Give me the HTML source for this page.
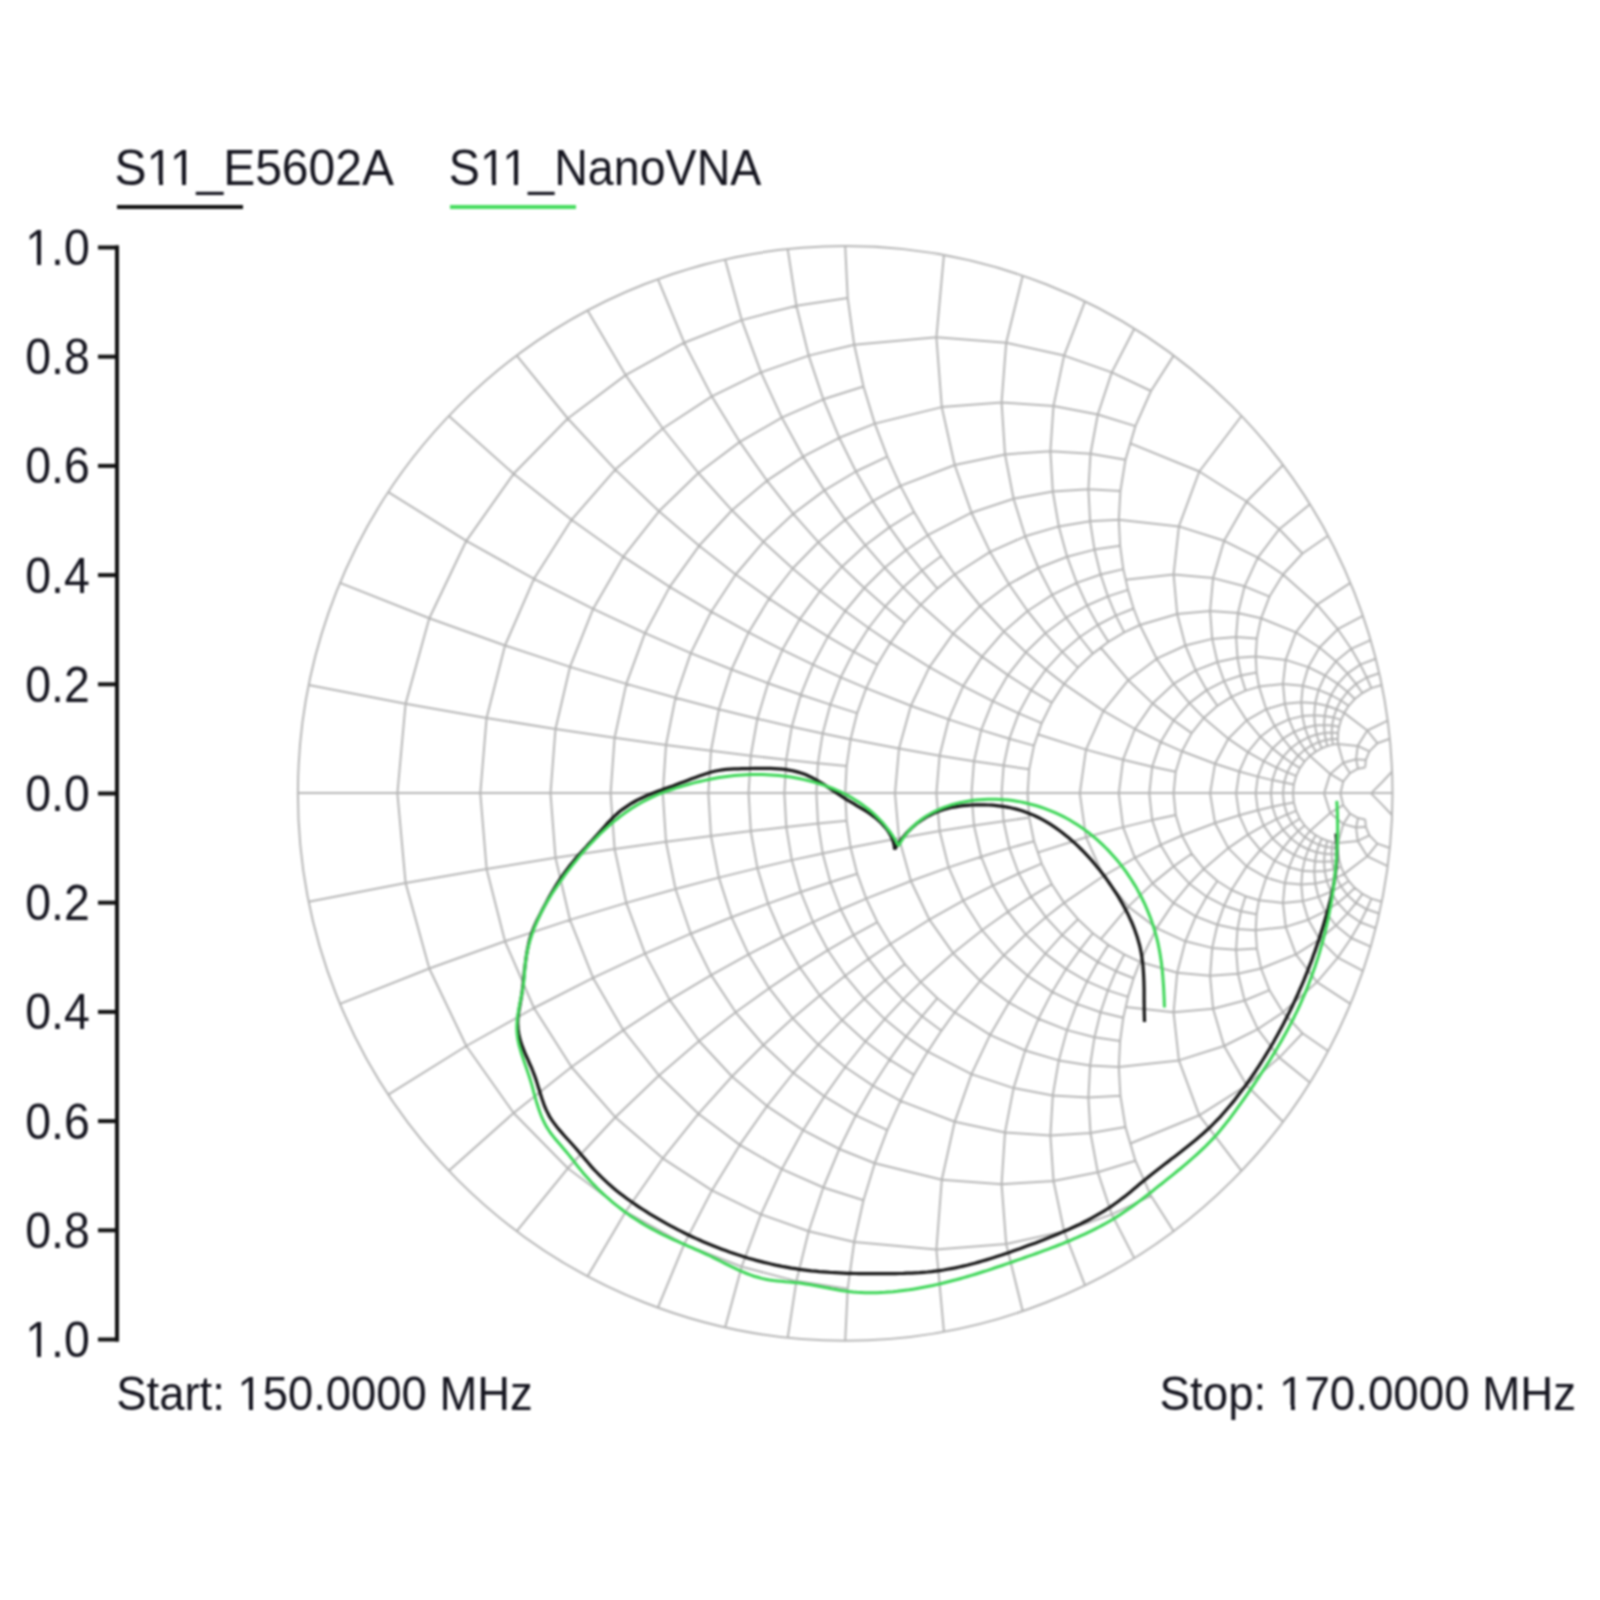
<!DOCTYPE html>
<html><head><meta charset="utf-8">
<style>
html,body{margin:0;padding:0;background:#fff;}
body{width:1600px;height:1600px;overflow:hidden;position:relative;}
svg{position:absolute;left:0;top:0;filter:blur(0.8px);}
text{font-family:"Liberation Sans",sans-serif;fill:#15151f;}
</style></head><body>
<svg width="1600" height="1600" viewBox="0 0 1600 1600">
<rect width="1600" height="1600" fill="#fff"/>
<g fill="none" stroke="#b6b6b6" stroke-width="2" stroke-linejoin="round">
<path d="M397.4,793.4 L405.6,703.7 L429.3,618.3 L466.3,540.8 L513.6,473.8 L567.8,418.5 L625.6,375.1 L684.2,342.7 L741.7,320.1 L796.4,305.7 L847.7,298.1 M397.4,793.4 L405.6,883.1 L429.3,968.5 L466.3,1046.0 L513.6,1113.0 L567.8,1168.3 L625.6,1211.7 L684.2,1244.1 L741.7,1266.7 L796.4,1281.1 L847.7,1288.7 M480.3,793.4 L486.6,717.9 L505.0,645.5 L534.0,578.8 L571.5,519.8 L615.3,469.6 L662.8,428.5 L711.9,396.4 L761.0,372.4 L808.7,355.6 L854.2,344.8 L936.4,337.3 L1006.2,342.7 L1064.1,355.6 L1111.8,372.4 L1151.0,391.0 M480.3,793.4 L486.6,868.9 L505.0,941.3 L534.0,1008.0 L571.5,1067.0 L615.3,1117.2 L662.8,1158.3 L711.9,1190.4 L761.0,1214.4 L808.7,1231.2 L854.2,1242.0 L936.4,1249.5 L1006.2,1244.1 L1064.1,1231.2 L1111.8,1214.4 L1151.0,1195.8 M550.5,793.4 L555.5,729.0 L570.0,666.9 L593.1,608.9 L623.3,556.7 L659.0,511.3 L698.4,473.0 L739.8,441.9 L781.8,417.6 L823.3,399.3 L863.5,386.5 M550.5,793.4 L555.5,857.8 L570.0,919.9 L593.1,977.9 L623.3,1030.1 L659.0,1075.5 L698.4,1113.8 L739.8,1144.9 L781.8,1169.2 L823.3,1187.5 L863.5,1200.3 M610.6,793.4 L614.6,737.8 L626.3,683.9 L645.0,633.2 L669.7,586.9 L699.1,545.8 L732.0,510.3 L767.0,480.7 L803.1,456.6 L839.3,437.8 L874.8,423.6 L941.8,407.1 L1001.6,402.5 L1053.5,405.9 L1097.8,414.5 L1135.4,426.1 M610.6,793.4 L614.6,849.0 L626.3,902.9 L645.0,953.6 L669.7,999.9 L699.1,1041.0 L732.0,1076.5 L767.0,1106.1 L803.1,1130.2 L839.3,1149.0 L874.8,1163.2 L941.8,1179.7 L1001.6,1184.3 L1053.5,1180.9 L1097.8,1172.3 L1135.4,1160.7 M662.8,793.4 L666.0,745.0 L675.5,697.8 L690.8,653.1 L711.2,611.7 L735.7,574.5 L763.4,541.8 L793.3,513.8 L824.4,490.4 L855.9,471.5 L887.3,456.6 M662.8,793.4 L666.0,841.8 L675.5,889.0 L690.8,933.7 L711.2,975.1 L735.7,1012.3 L763.4,1045.0 L793.3,1073.0 L824.4,1096.4 L855.9,1115.3 L887.3,1130.2 M1129.8,443.1 L1199.3,471.5 L1246.6,501.5 L1279.3,529.2 L1302.5,553.5 M1129.8,1143.7 L1199.3,1115.3 L1246.6,1085.3 L1279.3,1057.6 L1302.5,1033.3 M708.4,793.4 L711.0,750.8 L718.9,709.2 L731.6,669.5 L748.6,632.4 L769.2,598.6 L792.7,568.5 L818.3,542.2 L845.2,519.8 L872.8,501.1 L900.5,485.9 L954.7,465.0 L1005.0,454.4 L1050.4,451.3 L1090.5,453.7 L1125.5,459.7 M708.4,793.4 L711.0,836.0 L718.9,877.6 L731.6,917.3 L748.6,954.4 L769.2,988.2 L792.7,1018.3 L818.3,1044.6 L845.2,1067.0 L872.8,1085.7 L900.5,1100.9 L954.7,1121.8 L1005.0,1132.4 L1050.4,1135.5 L1090.5,1133.1 L1125.5,1127.1 M748.6,793.4 L750.8,755.7 L757.4,718.7 L768.1,683.2 L782.4,649.8 L799.9,619.1 L819.9,591.3 L842.0,566.7 L865.4,545.3 L889.6,527.1 L914.1,512.0 M748.6,793.4 L750.8,831.1 L757.4,868.1 L768.1,903.6 L782.4,937.0 L799.9,967.7 L819.9,995.5 L842.0,1020.1 L865.4,1041.5 L889.6,1059.7 L914.1,1074.8 M784.4,793.4 L786.3,759.7 L791.8,726.7 L800.8,694.8 L813.0,664.6 L827.9,636.6 L845.2,611.0 L864.3,588.0 L884.7,567.7 L906.0,550.2 L927.8,535.2 L971.5,512.7 L1013.6,498.7 L1052.8,491.4 L1088.4,489.3 L1120.4,491.0 M784.4,793.4 L786.3,827.1 L791.8,860.1 L800.8,892.0 L813.0,922.2 L827.9,950.2 L845.2,975.8 L864.3,998.8 L884.7,1019.1 L906.0,1036.6 L927.8,1051.6 L971.5,1074.1 L1013.6,1088.1 L1052.8,1095.4 L1088.4,1097.5 L1120.4,1095.8 M816.4,793.4 L818.0,763.2 L822.7,733.4 L830.4,704.6 L840.8,677.3 L853.7,651.6 L868.6,628.0 L885.2,606.5 L903.1,587.4 L922.0,570.5 L941.4,556.0 M816.4,793.4 L818.0,823.6 L822.7,853.4 L830.4,882.2 L840.8,909.5 L853.7,935.2 L868.6,958.8 L885.2,980.3 L903.1,999.4 L922.0,1016.3 L941.4,1030.8 M845.2,793.4 L846.6,766.1 L850.6,739.2 L857.2,713.1 L866.2,688.1 L877.4,664.6 L890.4,642.8 L904.9,622.7 L920.7,604.7 L937.4,588.6 L954.7,574.5 L990.1,551.9 L1025.2,536.3 L1058.8,526.4 L1090.1,521.3 L1118.8,519.8 L1178.9,526.4 L1224.1,540.8 L1257.8,557.6 L1283.0,574.5 L1317.0,604.7 L1337.8,629.2 L1351.2,648.8 L1360.3,664.6 L1366.7,677.5 L1371.4,688.1 M845.2,793.4 L846.6,820.7 L850.6,847.6 L857.2,873.7 L866.2,898.6 L877.4,922.2 L890.4,944.0 L904.9,964.1 L920.7,982.1 L937.4,998.2 L954.7,1012.3 L990.1,1034.9 L1025.2,1050.5 L1058.8,1060.4 L1090.1,1065.5 L1118.8,1067.0 L1178.9,1060.4 L1224.1,1046.0 L1257.8,1029.2 L1283.0,1012.3 L1317.0,982.1 L1337.8,957.6 L1351.2,938.0 L1360.3,922.2 L1366.7,909.3 L1371.4,898.6 M895.0,793.4 L899.0,748.5 L910.9,705.8 L929.4,667.1 L953.1,633.6 L980.2,606.0 L1009.0,584.2 L1038.4,568.0 L1067.1,556.7 L1094.5,549.6 L1120.1,545.8 M895.0,793.4 L899.0,838.3 L910.9,881.0 L929.4,919.7 L953.1,953.2 L980.2,980.8 L1009.0,1002.6 L1038.4,1018.8 L1067.1,1030.1 L1094.5,1037.2 L1120.1,1041.0 M936.4,793.4 L939.6,755.7 L948.7,719.4 L963.2,686.1 L982.0,656.6 L1003.9,631.5 L1027.6,611.0 L1052.2,594.9 L1076.8,582.9 L1100.6,574.5 L1123.3,569.1 M936.4,793.4 L939.6,831.1 L948.7,867.4 L963.2,900.7 L982.0,930.2 L1003.9,955.3 L1027.6,975.8 L1052.2,991.9 L1076.8,1003.9 L1100.6,1012.3 L1123.3,1017.7 M1125.5,579.8 L1173.6,574.5 L1213.1,578.1 L1244.6,586.3 L1269.5,596.6 M1125.5,1007.0 L1173.6,1012.3 L1213.1,1008.7 L1244.6,1000.5 L1269.5,990.2 M971.5,793.4 L974.0,761.2 L981.2,730.1 L992.8,701.2 L1007.9,675.1 L1025.8,652.3 L1045.4,633.2 L1066.1,617.7 L1087.1,605.5 L1107.9,596.4 L1128.0,589.9 M971.5,793.4 L974.0,825.6 L981.2,856.7 L992.8,885.6 L1007.9,911.7 L1025.8,934.5 L1045.4,953.6 L1066.1,969.1 L1087.1,981.3 L1107.9,990.4 L1128.0,996.9 M1001.6,793.4 L1003.6,765.6 L1009.4,738.7 L1018.7,713.3 L1031.1,690.1 L1045.8,669.6 L1062.2,651.9 L1079.8,637.0 L1097.8,625.0 L1115.9,615.6 L1133.6,608.5 M1001.6,793.4 L1003.6,821.2 L1009.4,848.1 L1018.7,873.5 L1031.1,896.7 L1045.8,917.2 L1062.2,934.9 L1079.8,949.8 L1097.8,961.8 L1115.9,971.2 L1133.6,978.3 M1027.6,793.4 L1029.2,769.2 L1034.0,745.6 L1041.7,723.2 L1051.9,702.6 L1064.1,683.9 L1078.0,667.6 L1092.9,653.6 L1108.4,641.9 L1124.2,632.4 L1139.9,625.0 L1177.2,614.0 L1210.1,611.0 L1238.0,613.1 L1261.1,618.3 L1295.9,632.4 L1319.5,647.5 L1335.9,661.3 L1347.5,673.4 L1356.0,683.9 L1362.4,693.0 M1027.6,793.4 L1029.2,817.6 L1034.0,841.2 L1041.7,863.6 L1051.9,884.2 L1064.1,902.9 L1078.0,919.2 L1092.9,933.2 L1108.4,944.9 L1124.2,954.4 L1139.9,961.8 L1177.2,972.8 L1210.1,975.8 L1238.0,973.7 L1261.1,968.5 L1295.9,954.4 L1319.5,939.3 L1335.9,925.5 L1347.5,913.4 L1356.0,902.9 L1362.4,893.8 M1079.8,793.4 L1086.0,749.6 L1103.4,710.8 L1128.3,680.2 L1156.7,658.7 L1185.4,645.5 L1212.2,638.9 L1236.1,637.0 L1256.9,638.4 M1079.8,793.4 L1086.0,837.2 L1103.4,876.0 L1128.3,906.6 L1156.7,928.1 L1185.4,941.3 L1212.2,947.9 L1236.1,949.8 L1256.9,948.4 M1118.8,793.4 L1123.1,759.7 L1134.9,729.0 L1152.6,703.4 L1173.6,683.9 L1195.7,670.4 L1217.4,662.0 L1237.5,657.8 L1255.7,656.6 L1285.7,659.9 L1308.3,667.1 L1325.1,675.5 L1337.8,683.9 L1347.4,691.8 L1354.8,699.0 M1118.8,793.4 L1123.1,827.1 L1134.9,857.8 L1152.6,883.4 L1173.6,902.9 L1195.7,916.4 L1217.4,924.8 L1237.5,929.0 L1255.7,930.2 L1285.7,926.9 L1308.3,919.7 L1325.1,911.3 L1337.8,902.9 L1347.4,895.0 L1354.8,887.8 M1149.3,793.4 L1152.2,766.7 L1160.7,741.9 L1173.6,720.4 L1189.4,703.1 L1206.6,690.1 L1224.1,681.1 L1240.9,675.5 L1256.6,672.6 M1149.3,793.4 L1152.2,820.1 L1160.7,844.9 L1173.6,866.4 L1189.4,883.7 L1206.6,896.7 L1224.1,905.7 L1240.9,911.3 L1256.6,914.2 M1173.6,793.4 L1175.7,771.7 L1182.0,751.3 L1191.7,733.1 L1203.8,717.9 L1217.4,705.8 L1231.5,696.8 L1245.6,690.6 L1259.0,686.6 L1283.0,683.9 L1302.8,685.7 L1318.5,689.9 L1331.0,695.0 L1340.9,700.5 L1348.7,705.8 M1173.6,793.4 L1175.7,815.1 L1182.0,835.5 L1191.7,853.7 L1203.8,868.9 L1217.4,881.0 L1231.5,890.0 L1245.6,896.2 L1259.0,900.2 L1283.0,902.9 L1302.8,901.1 L1318.5,896.9 L1331.0,891.8 L1340.9,886.3 L1348.7,881.0 M1210.1,793.4 L1215.0,763.8 L1228.3,738.7 L1246.6,720.4 L1266.2,709.2 L1284.8,703.7 L1301.3,702.2 L1315.2,703.3 L1326.8,705.8 L1336.4,709.2 L1344.2,712.9 L1367.3,730.5 L1377.4,743.2 M1210.1,793.4 L1215.0,823.0 L1228.3,848.1 L1246.6,866.4 L1266.2,877.6 L1284.8,883.1 L1301.3,884.6 L1315.2,883.5 L1326.8,881.0 L1336.4,877.6 L1344.2,873.9 L1367.3,856.3 L1377.4,843.6 M1236.1,793.4 L1239.3,771.5 L1247.9,752.1 L1260.4,736.8 L1274.6,726.0 L1289.0,719.4 L1302.4,716.1 L1314.3,715.2 L1324.7,715.9 L1333.6,717.6 L1341.1,719.9 M1236.1,793.4 L1239.3,815.3 L1247.9,834.7 L1260.4,850.0 L1274.6,860.8 L1289.0,867.4 L1302.4,870.7 L1314.3,871.6 L1324.7,870.9 L1333.6,869.2 L1341.1,866.9 M1255.7,793.4 L1257.8,776.6 L1263.7,761.2 L1272.5,748.4 L1283.0,738.7 L1294.1,731.9 L1304.9,727.7 L1315.0,725.6 L1324.1,725.0 L1332.1,725.5 L1339.1,726.7 M1255.7,793.4 L1257.8,810.2 L1263.7,825.6 L1272.5,838.4 L1283.0,848.1 L1294.1,854.9 L1304.9,859.1 L1315.0,861.2 L1324.1,861.8 L1332.1,861.3 L1339.1,860.1 M1270.9,793.4 L1272.4,780.1 L1276.6,767.6 L1283.0,756.9 L1290.9,748.3 L1299.6,741.8 L1308.3,737.3 L1316.7,734.5 L1324.6,733.0 L1331.7,732.6 L1338.1,732.9 M1270.9,793.4 L1272.4,806.7 L1276.6,819.2 L1283.0,829.9 L1290.9,838.5 L1299.6,845.0 L1308.3,849.5 L1316.7,852.3 L1324.6,853.8 L1331.7,854.2 L1338.1,853.9 M1283.0,793.4 L1284.1,782.6 L1287.2,772.4 L1292.1,763.3 L1298.1,755.7 L1304.9,749.6 L1312.0,745.1 L1319.0,742.0 L1325.8,740.0 L1332.0,739.0 L1337.8,738.7 M1283.0,793.4 L1284.1,804.2 L1287.2,814.4 L1292.1,823.5 L1298.1,831.1 L1304.9,837.2 L1312.0,841.7 L1319.0,844.8 L1325.8,846.8 L1332.0,847.8 L1337.8,848.1 M1293.0,793.4 L1293.8,784.4 L1296.2,775.9 L1299.9,768.1 L1304.6,761.4 L1310.0,755.9 L1315.8,751.6 L1321.7,748.3 L1327.4,746.1 L1332.9,744.6 L1338.0,743.9 L1357.7,745.9 L1369.4,751.4 M1293.0,793.4 L1293.8,802.4 L1296.2,810.9 L1299.9,818.7 L1304.6,825.4 L1310.0,830.9 L1315.8,835.2 L1321.7,838.5 L1327.4,840.7 L1332.9,842.2 L1338.0,842.9 L1357.7,840.9 L1369.4,835.4 M1324.1,793.4 L1330.2,773.9 L1343.3,762.7 L1356.1,759.3 L1365.8,760.0 M1324.1,793.4 L1330.2,812.9 L1343.3,824.1 L1356.1,827.5 L1365.8,826.8 M1340.4,793.4 L1343.2,781.7 L1350.0,773.2 L1358.0,768.7 L1365.2,767.4 M1340.4,793.4 L1343.2,805.1 L1350.0,813.6 L1358.0,818.1 L1365.2,819.4 M1371.0,793.4 L1381.6,782.7 M1371.0,793.4 L1381.6,804.1 M308.7,685.0 L405.6,703.7 L486.6,717.9 L555.5,729.0 L614.6,737.8 L666.0,745.0 L711.0,750.8 L750.8,755.7 L786.3,759.7 L818.0,763.2 L846.6,766.1 M308.7,901.8 L405.6,883.1 L486.6,868.9 L555.5,857.8 L614.6,849.0 L666.0,841.8 L711.0,836.0 L750.8,831.1 L786.3,827.1 L818.0,823.6 L846.6,820.7 M340.0,582.9 L429.3,618.3 L505.0,645.5 L570.0,666.9 L626.3,683.9 L675.5,697.8 L718.9,709.2 L757.4,718.7 L791.8,726.7 L822.7,733.4 L850.6,739.2 L899.0,748.5 L939.6,755.7 L974.0,761.2 L1003.6,765.6 L1029.2,769.2 M340.0,1003.9 L429.3,968.5 L505.0,941.3 L570.0,919.9 L626.3,902.9 L675.5,889.0 L718.9,877.6 L757.4,868.1 L791.8,860.1 L822.7,853.4 L850.6,847.6 L899.0,838.3 L939.6,831.1 L974.0,825.6 L1003.6,821.2 L1029.2,817.6 M388.3,492.1 L466.3,540.8 L534.0,578.8 L593.1,608.9 L645.0,633.2 L690.8,653.1 L731.6,669.5 L768.1,683.2 L800.8,694.8 L830.4,704.6 L857.2,713.1 M388.3,1094.7 L466.3,1046.0 L534.0,1008.0 L593.1,977.9 L645.0,953.6 L690.8,933.7 L731.6,917.3 L768.1,903.6 L800.8,892.0 L830.4,882.2 L857.2,873.7 M448.9,416.0 L513.6,473.8 L571.5,519.8 L623.3,556.7 L669.7,586.9 L711.2,611.7 L748.6,632.4 L782.4,649.8 L813.0,664.6 L840.8,677.3 L866.2,688.1 L910.9,705.8 L948.7,719.4 L981.2,730.1 L1009.4,738.7 L1034.0,745.6 M448.9,1170.8 L513.6,1113.0 L571.5,1067.0 L623.3,1030.1 L669.7,999.9 L711.2,975.1 L748.6,954.4 L782.4,937.0 L813.0,922.2 L840.8,909.5 L866.2,898.6 L910.9,881.0 L948.7,867.4 L981.2,856.7 L1009.4,848.1 L1034.0,841.2 M516.8,355.6 L567.8,418.5 L615.3,469.6 L659.0,511.3 L699.1,545.8 L735.7,574.5 L769.2,598.6 L799.9,619.1 L827.9,636.6 L853.7,651.6 L877.4,664.6 M516.8,1231.2 L567.8,1168.3 L615.3,1117.2 L659.0,1075.5 L699.1,1041.0 L735.7,1012.3 L769.2,988.2 L799.9,967.7 L827.9,950.2 L853.7,935.2 L877.4,922.2 M1037.5,734.2 L1086.0,749.6 L1123.1,759.7 L1152.2,766.7 L1175.7,771.7 M1037.5,852.6 L1086.0,837.2 L1123.1,827.1 L1152.2,820.1 L1175.7,815.1 M587.6,310.5 L625.6,375.1 L662.8,428.5 L698.4,473.0 L732.0,510.3 L763.4,541.8 L792.7,568.5 L819.9,591.3 L845.2,611.0 L868.6,628.0 L890.4,642.8 L929.4,667.1 L963.2,686.1 L992.8,701.2 L1018.7,713.3 L1041.7,723.2 M587.6,1276.3 L625.6,1211.7 L662.8,1158.3 L698.4,1113.8 L732.0,1076.5 L763.4,1045.0 L792.7,1018.3 L819.9,995.5 L845.2,975.8 L868.6,958.8 L890.4,944.0 L929.4,919.7 L963.2,900.7 L992.8,885.6 L1018.7,873.5 L1041.7,863.6 M657.9,279.2 L684.2,342.7 L711.9,396.4 L739.8,441.9 L767.0,480.7 L793.3,513.8 L818.3,542.2 L842.0,566.7 L864.3,588.0 L885.2,606.5 L904.9,622.7 M657.9,1307.6 L684.2,1244.1 L711.9,1190.4 L739.8,1144.9 L767.0,1106.1 L793.3,1073.0 L818.3,1044.6 L842.0,1020.1 L864.3,998.8 L885.2,980.3 L904.9,964.1 M725.1,259.4 L741.7,320.1 L761.0,372.4 L781.8,417.6 L803.1,456.6 L824.4,490.4 L845.2,519.8 L865.4,545.3 L884.7,567.7 L903.1,587.4 L920.7,604.7 L953.1,633.6 L982.0,656.6 L1007.9,675.1 L1031.1,690.1 L1051.9,702.6 M725.1,1327.4 L741.7,1266.7 L761.0,1214.4 L781.8,1169.2 L803.1,1130.2 L824.4,1096.4 L845.2,1067.0 L865.4,1041.5 L884.7,1019.1 L903.1,999.4 L920.7,982.1 L953.1,953.2 L982.0,930.2 L1007.9,911.7 L1031.1,896.7 L1051.9,884.2 M787.7,249.1 L796.4,305.7 L808.7,355.6 L823.3,399.3 L839.3,437.8 L855.9,471.5 L872.8,501.1 L889.6,527.1 L906.0,550.2 L922.0,570.5 L937.4,588.6 M787.7,1337.7 L796.4,1281.1 L808.7,1231.2 L823.3,1187.5 L839.3,1149.0 L855.9,1115.3 L872.8,1085.7 L889.6,1059.7 L906.0,1036.6 L922.0,1016.3 L937.4,998.2 M845.2,246.1 L847.7,298.1 L854.2,344.8 L863.5,386.5 L874.8,423.6 L887.3,456.6 L900.5,485.9 L914.1,512.0 L927.8,535.2 L941.4,556.0 L954.7,574.5 L980.2,606.0 L1003.9,631.5 L1025.8,652.3 L1045.8,669.6 L1064.1,683.9 L1103.4,710.8 L1134.9,729.0 L1160.7,741.9 L1182.0,751.3 L1215.0,763.8 L1239.3,771.5 L1257.8,776.6 L1272.4,780.1 L1284.1,782.6 L1293.8,784.4 M845.2,1340.7 L847.7,1288.7 L854.2,1242.0 L863.5,1200.3 L874.8,1163.2 L887.3,1130.2 L900.5,1100.9 L914.1,1074.8 L927.8,1051.6 L941.4,1030.8 L954.7,1012.3 L980.2,980.8 L1003.9,955.3 L1025.8,934.5 L1045.8,917.2 L1064.1,902.9 L1103.4,876.0 L1134.9,857.8 L1160.7,844.9 L1182.0,835.5 L1215.0,823.0 L1239.3,815.3 L1257.8,810.2 L1272.4,806.7 L1284.1,804.2 L1293.8,802.4 M943.9,255.1 L936.4,337.3 L941.8,407.1 L954.7,465.0 L971.5,512.7 L990.1,551.9 L1009.0,584.2 L1027.6,611.0 L1045.4,633.2 L1062.2,651.9 L1078.0,667.6 M943.9,1331.7 L936.4,1249.5 L941.8,1179.7 L954.7,1121.8 L971.5,1074.1 L990.1,1034.9 L1009.0,1002.6 L1027.6,975.8 L1045.4,953.6 L1062.2,934.9 L1078.0,919.2 M1022.7,275.7 L1006.2,342.7 L1001.6,402.5 L1005.0,454.4 L1013.6,498.7 L1025.2,536.3 L1038.4,568.0 L1052.2,594.9 L1066.1,617.7 L1079.8,637.0 L1092.9,653.6 M1022.7,1311.1 L1006.2,1244.1 L1001.6,1184.3 L1005.0,1132.4 L1013.6,1088.1 L1025.2,1050.5 L1038.4,1018.8 L1052.2,991.9 L1066.1,969.1 L1079.8,949.8 L1092.9,933.2 M1100.6,647.5 L1128.3,680.2 L1152.6,703.4 L1173.6,720.4 L1191.7,733.1 M1100.6,939.3 L1128.3,906.6 L1152.6,883.4 L1173.6,866.4 L1191.7,853.7 M1085.0,301.4 L1064.1,355.6 L1053.5,405.9 L1050.4,451.3 L1052.8,491.4 L1058.8,526.4 L1067.1,556.7 L1076.8,582.9 L1087.1,605.5 L1097.8,625.0 L1108.4,641.9 M1085.0,1285.4 L1064.1,1231.2 L1053.5,1180.9 L1050.4,1135.5 L1052.8,1095.4 L1058.8,1060.4 L1067.1,1030.1 L1076.8,1003.9 L1087.1,981.3 L1097.8,961.8 L1108.4,944.9 M1134.3,328.7 L1111.8,372.4 L1097.8,414.5 L1090.5,453.7 L1088.4,489.3 L1090.1,521.3 L1094.5,549.6 L1100.6,574.5 L1107.9,596.4 L1115.9,615.6 L1124.2,632.4 M1134.3,1258.1 L1111.8,1214.4 L1097.8,1172.3 L1090.5,1133.1 L1088.4,1097.5 L1090.1,1065.5 L1094.5,1037.2 L1100.6,1012.3 L1107.9,990.4 L1115.9,971.2 L1124.2,954.4 M1173.6,355.6 L1151.0,391.0 L1135.4,426.1 L1125.5,459.7 L1120.4,491.0 L1118.8,519.8 L1120.1,545.8 L1123.3,569.1 L1128.0,589.9 L1133.6,608.5 L1139.9,625.0 L1156.7,658.7 L1173.6,683.9 L1189.4,703.1 L1203.8,717.9 L1228.3,738.7 L1247.9,752.1 L1263.7,761.2 L1276.6,767.6 L1287.2,772.4 L1296.2,775.9 M1173.6,1231.2 L1151.0,1195.8 L1135.4,1160.7 L1125.5,1127.1 L1120.4,1095.8 L1118.8,1067.0 L1120.1,1041.0 L1123.3,1017.7 L1128.0,996.9 L1133.6,978.3 L1139.9,961.8 L1156.7,928.1 L1173.6,902.9 L1189.4,883.7 L1203.8,868.9 L1228.3,848.1 L1247.9,834.7 L1263.7,825.6 L1276.6,819.2 L1287.2,814.4 L1296.2,810.9 M1241.5,416.0 L1199.3,471.5 L1178.9,526.4 L1173.6,574.5 L1177.2,614.0 L1185.4,645.5 L1195.7,670.4 L1206.6,690.1 L1217.4,705.8 M1241.5,1170.8 L1199.3,1115.3 L1178.9,1060.4 L1173.6,1012.3 L1177.2,972.8 L1185.4,941.3 L1195.7,916.4 L1206.6,896.7 L1217.4,881.0 M1283.0,465.0 L1246.6,501.5 L1224.1,540.8 L1213.1,578.1 L1210.1,611.0 L1212.2,638.9 L1217.4,662.0 L1224.1,681.1 L1231.5,696.8 L1246.6,720.4 L1260.4,736.8 L1272.5,748.4 L1283.0,756.9 L1292.1,763.3 L1299.9,768.1 M1283.0,1121.8 L1246.6,1085.3 L1224.1,1046.0 L1213.1,1008.7 L1210.1,975.8 L1212.2,947.9 L1217.4,924.8 L1224.1,905.7 L1231.5,890.0 L1246.6,866.4 L1260.4,850.0 L1272.5,838.4 L1283.0,829.9 L1292.1,823.5 L1299.9,818.7 M1309.9,504.3 L1279.3,529.2 L1257.8,557.6 L1244.6,586.3 L1238.0,613.1 L1236.1,637.0 L1237.5,657.8 L1240.9,675.5 L1245.6,690.6 M1309.9,1082.5 L1279.3,1057.6 L1257.8,1029.2 L1244.6,1000.5 L1238.0,973.7 L1236.1,949.8 L1237.5,929.0 L1240.9,911.3 L1245.6,896.2 M1328.1,535.8 L1302.5,553.5 L1283.0,574.5 L1269.5,596.6 L1261.1,618.3 L1256.9,638.4 L1255.7,656.6 L1256.6,672.6 L1259.0,686.6 L1266.2,709.2 L1274.6,726.0 L1283.0,738.7 L1290.9,748.3 L1298.1,755.7 L1304.6,761.4 M1328.1,1051.0 L1302.5,1033.3 L1283.0,1012.3 L1269.5,990.2 L1261.1,968.5 L1256.9,948.4 L1255.7,930.2 L1256.6,914.2 L1259.0,900.2 L1266.2,877.6 L1274.6,860.8 L1283.0,848.1 L1290.9,838.5 L1298.1,831.1 L1304.6,825.4 M1350.4,582.9 L1317.0,604.7 L1295.9,632.4 L1285.7,659.9 L1283.0,683.9 L1284.8,703.7 L1289.0,719.4 L1294.1,731.9 L1299.6,741.8 L1304.9,749.6 L1310.0,755.9 L1330.2,773.9 L1343.2,781.7 M1350.4,1003.9 L1317.0,982.1 L1295.9,954.4 L1285.7,926.9 L1283.0,902.9 L1284.8,883.1 L1289.0,867.4 L1294.1,854.9 L1299.6,845.0 L1304.9,837.2 L1310.0,830.9 L1330.2,812.9 L1343.2,805.1 M1362.9,615.9 L1337.8,629.2 L1319.5,647.5 L1308.3,667.1 L1302.8,685.7 L1301.3,702.2 L1302.4,716.1 L1304.9,727.7 L1308.3,737.3 L1312.0,745.1 L1315.8,751.6 M1362.9,970.9 L1337.8,957.6 L1319.5,939.3 L1308.3,919.7 L1302.8,901.1 L1301.3,884.6 L1302.4,870.7 L1304.9,859.1 L1308.3,849.5 L1312.0,841.7 L1315.8,835.2 M1370.6,640.2 L1351.2,648.8 L1335.9,661.3 L1325.1,675.5 L1318.5,689.9 L1315.2,703.3 L1314.3,715.2 L1315.0,725.6 L1316.7,734.5 L1319.0,742.0 L1321.7,748.3 M1370.6,946.6 L1351.2,938.0 L1335.9,925.5 L1325.1,911.3 L1318.5,896.9 L1315.2,883.5 L1314.3,871.6 L1315.0,861.2 L1316.7,852.3 L1319.0,844.8 L1321.7,838.5 M1375.7,658.7 L1360.3,664.6 L1347.5,673.4 L1337.8,683.9 L1331.0,695.0 L1326.8,705.8 L1324.7,715.9 L1324.1,725.0 L1324.6,733.0 L1325.8,740.0 L1327.4,746.1 M1375.7,928.1 L1360.3,922.2 L1347.5,913.4 L1337.8,902.9 L1331.0,891.8 L1326.8,881.0 L1324.7,870.9 L1324.1,861.8 L1324.6,853.8 L1325.8,846.8 L1327.4,840.7 M1379.2,673.3 L1366.7,677.5 L1356.0,683.9 L1347.4,691.8 L1340.9,700.5 L1336.4,709.2 L1333.6,717.6 L1332.1,725.5 L1331.7,732.6 L1332.0,739.0 L1332.9,744.6 M1379.2,913.5 L1366.7,909.3 L1356.0,902.9 L1347.4,895.0 L1340.9,886.3 L1336.4,877.6 L1333.6,869.2 L1332.1,861.3 L1331.7,854.2 L1332.0,847.8 L1332.9,842.2 M1381.7,685.0 L1371.4,688.1 L1362.4,693.0 L1354.8,699.0 L1348.7,705.8 L1344.2,712.9 L1341.1,719.9 L1339.1,726.7 L1338.1,732.9 L1337.8,738.7 L1338.0,743.9 L1343.3,762.7 L1350.0,773.2 M1381.7,901.8 L1371.4,898.6 L1362.4,893.8 L1354.8,887.8 L1348.7,881.0 L1344.2,873.9 L1341.1,866.9 L1339.1,860.1 L1338.1,853.9 L1337.8,848.1 L1338.0,842.9 L1343.3,824.1 L1350.0,813.6 M1387.7,720.7 L1367.3,730.5 L1357.7,745.9 L1356.1,759.3 L1358.0,768.7 M1387.7,866.1 L1367.3,856.3 L1357.7,840.9 L1356.1,827.5 L1358.0,818.1 M1389.8,738.8 L1377.4,743.2 L1369.4,751.4 L1365.8,760.0 L1365.2,767.4 M1389.8,848.0 L1377.4,843.6 L1369.4,835.4 L1365.8,826.8 L1365.2,819.4 M1392.1,771.5 L1381.6,782.7 M1392.1,815.3 L1381.6,804.1"/>
</g>
<circle cx="845.2" cy="793.4" r="547.3" fill="none" stroke="#b6b6b6" stroke-width="2"/>
<line x1="297.9000000000001" y1="792.9" x2="1392.5" y2="792.9" stroke="#b6b6b6" stroke-width="2"/>
<path d="M1144.5,1022.0 L1144.4,1018.0 L1144.3,1014.0 L1144.2,1010.0 L1144.2,1006.0 L1144.1,1001.9 L1144.1,997.8 L1144.1,993.7 L1144.1,989.6 L1144.0,985.5 L1143.9,981.4 L1143.7,977.2 L1143.5,973.1 L1143.2,969.0 L1142.9,965.0 L1142.4,960.9 L1141.9,956.9 L1141.2,952.9 L1140.4,948.9 L1139.5,945.0 L1138.4,941.1 L1137.3,937.3 L1136.0,933.5 L1134.7,929.7 L1133.2,925.9 L1131.7,922.2 L1130.0,918.6 L1128.3,914.9 L1126.5,911.3 L1124.6,907.7 L1122.7,904.2 L1120.6,900.6 L1118.6,897.1 L1116.4,893.7 L1114.2,890.3 L1111.9,886.9 L1109.6,883.5 L1107.3,880.1 L1104.9,876.8 L1102.4,873.6 L1099.9,870.3 L1097.3,867.2 L1094.7,864.0 L1092.1,860.9 L1089.4,857.9 L1086.6,854.9 L1083.8,851.9 L1080.9,849.0 L1078.0,846.2 L1075.1,843.4 L1072.0,840.7 L1069.0,838.0 L1065.8,835.5 L1062.7,832.9 L1059.4,830.5 L1056.1,828.1 L1052.8,825.9 L1049.4,823.7 L1046.0,821.6 L1042.5,819.6 L1038.9,817.8 L1035.3,816.0 L1031.6,814.4 L1027.9,812.9 L1024.1,811.5 L1020.3,810.2 L1016.4,809.1 L1012.5,808.2 L1008.5,807.3 L1004.5,806.6 L1000.4,806.1 L996.4,805.6 L992.3,805.2 L988.2,805.0 L984.1,804.9 L979.9,804.8 L975.8,804.9 L971.7,805.0 L967.6,805.3 L963.6,805.6 L959.5,806.1 L955.5,806.8 L951.5,807.5 L947.6,808.4 L943.8,809.5 L940.0,810.8 L936.2,812.2 L932.6,813.9 L929.0,815.7 L925.5,817.6 L922.1,819.8 L918.8,822.1 L915.6,824.6 L912.5,827.2 L909.6,830.0 L906.7,832.9 L904.0,836.0 L901.4,839.2 L899.0,842.5 L896.7,845.9 L894.6,849.5 M894.6,849.5 L894.2,845.4 L893.2,841.5 L891.8,837.8 L890.0,834.2 L887.9,830.8 L885.4,827.6 L882.7,824.6 L879.9,821.7 L876.9,819.1 L873.8,816.6 L870.6,814.3 L867.3,812.0 L864.0,809.9 L860.6,807.8 L857.1,805.8 L853.7,803.7 L850.2,801.7 L846.7,799.6 L843.3,797.4 L839.9,795.2 L836.5,792.9 L833.2,790.6 L829.8,788.3 L826.4,786.1 L823.0,783.9 L819.6,781.8 L816.1,779.8 L812.6,777.9 L809.1,776.2 L805.5,774.6 L801.8,773.2 L798.0,772.1 L794.2,771.1 L790.3,770.3 L786.4,769.7 L782.4,769.2 L778.4,768.8 L774.4,768.6 L770.4,768.4 L766.3,768.3 L762.3,768.3 L758.2,768.3 L754.2,768.4 L750.1,768.5 L746.1,768.6 L742.1,768.7 L738.1,768.8 L734.1,768.9 L730.1,769.1 L726.2,769.4 L722.3,769.9 L718.4,770.5 L714.5,771.3 L710.7,772.3 L706.8,773.5 L703.0,774.7 L699.2,776.0 L695.4,777.4 L691.6,778.8 L687.9,780.3 L684.1,781.7 L680.3,783.1 L676.5,784.5 L672.8,785.9 L669.0,787.2 L665.2,788.5 L661.5,789.9 L657.7,791.3 L653.9,792.7 L650.2,794.3 L646.4,795.8 L642.8,797.5 L639.1,799.2 L635.6,801.0 L632.1,803.0 L628.7,805.1 L625.4,807.3 L622.1,809.6 L619.0,812.1 L616.0,814.7 L613.1,817.4 L610.3,820.3 L607.5,823.2 L604.8,826.2 L602.1,829.2 L599.4,832.2 L596.7,835.2 L594.0,838.3 L591.3,841.3 L588.6,844.2 L585.9,847.2 L583.2,850.1 L580.5,853.1 L577.8,856.1 L575.2,859.1 L572.7,862.2 L570.1,865.3 L567.7,868.4 L565.3,871.6 L563.0,874.9 L560.7,878.2 L558.5,881.5 L556.4,884.9 L554.3,888.4 L552.2,891.8 L550.2,895.3 L548.2,898.8 L546.3,902.4 L544.4,905.9 L542.5,909.5 L540.7,913.1 L538.9,916.7 L537.1,920.3 L535.4,923.9 L533.8,927.6 L532.4,931.3 L531.1,935.0 L529.9,938.8 L528.9,942.7 L528.1,946.5 L527.3,950.4 L526.6,954.4 L526.0,958.3 L525.5,962.3 L525.0,966.3 L524.5,970.3 L524.1,974.3 L523.7,978.3 L523.3,982.4 L522.8,986.4 L522.3,990.4 L521.8,994.4 L521.1,998.4 L520.4,1002.4 L519.7,1006.4 L519.0,1010.3 L518.4,1014.2 L517.9,1018.2 L517.7,1022.1 L517.8,1026.0 L518.2,1029.9 L518.8,1033.8 L519.6,1037.7 L520.7,1041.5 L522.0,1045.3 L523.4,1049.0 L524.9,1052.8 L526.5,1056.5 L528.2,1060.2 L529.8,1064.0 L531.5,1067.7 L533.0,1071.5 L534.5,1075.3 L535.9,1079.2 L537.1,1083.1 L538.3,1086.9 L539.5,1090.8 L540.7,1094.7 L541.9,1098.5 L543.2,1102.3 L544.5,1106.0 L546.1,1109.6 L547.8,1113.1 L549.6,1116.6 L551.7,1119.9 L554.0,1123.1 L556.4,1126.3 L558.9,1129.4 L561.5,1132.4 L564.2,1135.5 L566.9,1138.5 L569.7,1141.5 L572.4,1144.5 L575.1,1147.5 L577.8,1150.6 L580.4,1153.7 L583.0,1156.8 L585.7,1159.9 L588.3,1163.0 L590.9,1166.1 L593.6,1169.1 L596.4,1172.0 L599.2,1174.9 L602.0,1177.7 L604.9,1180.4 L607.8,1183.1 L610.8,1185.8 L613.9,1188.4 L616.9,1190.9 L620.1,1193.4 L623.2,1195.8 L626.4,1198.2 L629.6,1200.5 L632.9,1202.8 L636.2,1205.1 L639.5,1207.3 L642.9,1209.5 L646.3,1211.6 L649.7,1213.8 L653.1,1215.8 L656.6,1217.9 L660.0,1219.9 L663.5,1221.9 L667.0,1223.9 L670.6,1225.8 L674.1,1227.7 L677.7,1229.6 L681.3,1231.4 L684.9,1233.2 L688.5,1235.0 L692.1,1236.7 L695.8,1238.4 L699.5,1240.0 L703.2,1241.7 L706.9,1243.2 L710.6,1244.8 L714.3,1246.3 L718.1,1247.8 L721.8,1249.2 L725.6,1250.6 L729.4,1252.0 L733.2,1253.3 L737.0,1254.6 L740.8,1255.8 L744.7,1257.0 L748.5,1258.2 L752.4,1259.3 L756.2,1260.4 L760.1,1261.4 L764.0,1262.4 L767.9,1263.3 L771.8,1264.2 L775.7,1265.1 L779.6,1265.9 L783.5,1266.7 L787.5,1267.4 L791.4,1268.1 L795.4,1268.7 L799.3,1269.3 L803.3,1269.8 L807.2,1270.3 L811.2,1270.8 L815.2,1271.2 L819.2,1271.6 L823.1,1271.9 L827.1,1272.2 L831.1,1272.5 L835.1,1272.7 L839.1,1272.9 L843.1,1273.1 L847.1,1273.3 L851.1,1273.4 L855.1,1273.5 L859.1,1273.6 L863.2,1273.7 L867.2,1273.7 L871.2,1273.7 L875.2,1273.7 L879.3,1273.7 L883.3,1273.7 L887.3,1273.7 L891.4,1273.6 L895.4,1273.6 L899.4,1273.5 L903.5,1273.4 L907.5,1273.2 L911.5,1273.1 L915.5,1272.8 L919.5,1272.6 L923.6,1272.3 L927.6,1272.0 L931.5,1271.6 L935.5,1271.1 L939.5,1270.6 L943.5,1270.0 L947.4,1269.3 L951.3,1268.6 L955.3,1267.9 L959.2,1267.0 L963.1,1266.1 L967.0,1265.2 L970.8,1264.2 L974.7,1263.2 L978.6,1262.1 L982.4,1261.0 L986.3,1259.9 L990.1,1258.7 L993.9,1257.5 L997.7,1256.2 L1001.6,1255.0 L1005.4,1253.7 L1009.2,1252.4 L1013.0,1251.0 L1016.7,1249.7 L1020.5,1248.4 L1024.3,1247.0 L1028.1,1245.6 L1031.8,1244.3 L1035.6,1242.9 L1039.3,1241.4 L1043.1,1240.0 L1046.8,1238.5 L1050.5,1237.0 L1054.3,1235.5 L1058.0,1234.0 L1061.7,1232.4 L1065.4,1230.8 L1069.1,1229.2 L1072.7,1227.5 L1076.4,1225.8 L1080.0,1224.1 L1083.6,1222.3 L1087.2,1220.5 L1090.7,1218.6 L1094.2,1216.7 L1097.7,1214.7 L1101.2,1212.7 L1104.6,1210.6 L1107.9,1208.5 L1111.3,1206.3 L1114.6,1204.0 L1117.8,1201.7 L1121.0,1199.3 L1124.2,1196.9 L1127.3,1194.4 L1130.4,1191.9 L1133.5,1189.3 L1136.6,1186.7 L1139.7,1184.1 L1142.8,1181.5 L1145.9,1179.0 L1149.0,1176.4 L1152.1,1173.9 L1155.3,1171.4 L1158.5,1168.9 L1161.7,1166.5 L1164.9,1164.0 L1168.1,1161.6 L1171.3,1159.1 L1174.5,1156.7 L1177.7,1154.2 L1180.9,1151.8 L1184.0,1149.3 L1187.2,1146.8 L1190.3,1144.3 L1193.4,1141.8 L1196.5,1139.2 L1199.6,1136.6 L1202.6,1134.0 L1205.6,1131.3 L1208.5,1128.6 L1211.4,1125.9 L1214.2,1123.0 L1217.0,1120.2 L1219.8,1117.3 L1222.5,1114.3 L1225.1,1111.3 L1227.7,1108.3 L1230.3,1105.2 L1232.9,1102.1 L1235.4,1099.0 L1237.8,1095.8 L1240.3,1092.6 L1242.7,1089.4 L1245.1,1086.2 L1247.4,1082.9 L1249.7,1079.6 L1252.0,1076.3 L1254.3,1073.0 L1256.5,1069.6 L1258.7,1066.3 L1260.9,1062.9 L1263.0,1059.5 L1265.1,1056.1 L1267.2,1052.7 L1269.3,1049.2 L1271.3,1045.8 L1273.4,1042.3 L1275.3,1038.8 L1277.3,1035.3 L1279.2,1031.8 L1281.1,1028.2 L1283.0,1024.7 L1284.9,1021.1 L1286.7,1017.5 L1288.5,1013.9 L1290.3,1010.3 L1292.0,1006.7 L1293.7,1003.1 L1295.4,999.4 L1297.1,995.8 L1298.7,992.1 L1300.3,988.4 L1301.9,984.8 L1303.5,981.1 L1305.0,977.3 L1306.5,973.6 L1308.0,969.9 L1309.4,966.1 L1310.9,962.4 L1312.3,958.6 L1313.6,954.8 L1315.0,951.1 L1316.3,947.3 L1317.6,943.5 L1318.9,939.7 L1320.1,935.8 L1321.3,932.0 L1322.5,928.2 L1323.7,924.3 L1324.8,920.5 L1325.9,916.6 L1327.0,912.8 L1328.1,908.9 L1329.1,905.0 L1330.1,901.2 L1331.0,897.3 L1331.9,893.4 L1332.7,889.5 L1333.5,885.5 L1334.2,881.6 L1334.8,877.7 L1335.4,873.7 L1335.9,869.8 L1336.3,865.8 L1336.6,861.8 L1336.8,857.8 L1337.0,853.8 L1337.0,849.8 L1336.9,845.7 L1336.7,841.7 L1336.4,837.6 L1336.0,833.5" fill="none" stroke="#141414" stroke-width="3.2" stroke-linejoin="miter"/>
<path d="M1164.5,1007.5 L1164.3,1003.5 L1164.2,999.4 L1164.0,995.3 L1163.8,991.3 L1163.6,987.2 L1163.3,983.1 L1163.0,979.0 L1162.7,975.0 L1162.3,970.9 L1161.9,966.8 L1161.4,962.8 L1160.8,958.7 L1160.2,954.7 L1159.5,950.7 L1158.7,946.7 L1157.9,942.7 L1156.9,938.7 L1155.9,934.8 L1154.8,930.9 L1153.6,927.0 L1152.3,923.1 L1151.0,919.2 L1149.5,915.4 L1148.0,911.6 L1146.4,907.9 L1144.8,904.2 L1143.0,900.5 L1141.2,896.8 L1139.3,893.2 L1137.4,889.6 L1135.4,886.1 L1133.2,882.6 L1131.1,879.2 L1128.8,875.8 L1126.5,872.4 L1124.1,869.1 L1121.6,865.8 L1119.1,862.6 L1116.5,859.5 L1113.8,856.4 L1111.1,853.4 L1108.3,850.4 L1105.4,847.5 L1102.5,844.7 L1099.5,841.9 L1096.5,839.2 L1093.4,836.6 L1090.2,834.0 L1087.0,831.5 L1083.7,829.1 L1080.4,826.8 L1077.0,824.6 L1073.6,822.4 L1070.1,820.3 L1066.5,818.3 L1063.0,816.4 L1059.3,814.6 L1055.6,812.9 L1051.9,811.3 L1048.1,809.8 L1044.3,808.4 L1040.4,807.0 L1036.5,805.8 L1032.6,804.7 L1028.6,803.7 L1024.7,802.7 L1020.6,801.9 L1016.6,801.2 L1012.6,800.6 L1008.5,800.1 L1004.4,799.7 L1000.3,799.5 L996.2,799.3 L992.1,799.2 L988.0,799.3 L983.9,799.4 L979.9,799.7 L975.8,800.1 L971.7,800.6 L967.7,801.2 L963.7,801.9 L959.7,802.8 L955.7,803.8 L951.8,804.8 L947.9,806.1 L944.1,807.4 L940.3,808.9 L936.6,810.6 L933.0,812.3 L929.5,814.3 L926.0,816.3 L922.7,818.5 L919.5,820.9 L916.4,823.5 L913.4,826.2 L910.5,829.0 L907.8,832.1 L905.3,835.3 L902.8,838.7 L900.6,842.2 L898.5,846.0 M898.5,846.0 L896.5,842.3 L894.5,838.8 L892.3,835.3 L890.0,832.0 L887.6,828.8 L885.1,825.6 L882.5,822.6 L879.8,819.7 L877.0,816.9 L874.1,814.2 L871.1,811.5 L868.1,809.0 L865.0,806.6 L861.8,804.2 L858.5,802.0 L855.2,799.9 L851.8,797.8 L848.3,795.9 L844.8,794.0 L841.2,792.2 L837.5,790.6 L833.8,789.0 L830.1,787.5 L826.3,786.1 L822.5,784.7 L818.6,783.5 L814.8,782.3 L810.8,781.3 L806.9,780.3 L802.9,779.4 L798.9,778.5 L794.9,777.8 L790.9,777.1 L786.8,776.5 L782.8,776.0 L778.7,775.6 L774.7,775.2 L770.6,774.9 L766.6,774.7 L762.5,774.6 L758.5,774.5 L754.5,774.5 L750.5,774.6 L746.5,774.8 L742.5,775.0 L738.6,775.2 L734.7,775.6 L730.7,776.0 L726.9,776.5 L723.0,777.0 L719.1,777.6 L715.2,778.3 L711.3,779.0 L707.5,779.8 L703.6,780.6 L699.7,781.5 L695.8,782.4 L691.9,783.4 L688.0,784.5 L684.1,785.6 L680.2,786.7 L676.3,787.9 L672.3,789.2 L668.4,790.5 L664.5,791.9 L660.7,793.4 L656.9,794.9 L653.2,796.6 L649.5,798.3 L646.0,800.1 L642.4,802.0 L638.9,804.0 L635.5,806.0 L632.2,808.1 L628.9,810.3 L625.6,812.6 L622.4,814.9 L619.2,817.3 L616.1,819.7 L613.1,822.2 L610.0,824.8 L607.1,827.4 L604.1,830.1 L601.2,832.8 L598.4,835.6 L595.6,838.5 L592.8,841.4 L590.1,844.3 L587.3,847.3 L584.7,850.3 L582.0,853.3 L579.4,856.4 L576.9,859.6 L574.3,862.7 L571.8,865.9 L569.3,869.2 L566.8,872.4 L564.4,875.7 L562.0,879.1 L559.6,882.4 L557.3,885.8 L555.0,889.2 L552.7,892.6 L550.6,896.1 L548.4,899.6 L546.4,903.1 L544.4,906.6 L542.5,910.2 L540.6,913.8 L538.9,917.4 L537.2,921.1 L535.6,924.8 L534.1,928.5 L532.7,932.2 L531.4,936.0 L530.2,939.8 L529.1,943.6 L528.1,947.4 L527.3,951.3 L526.5,955.2 L525.9,959.1 L525.4,963.0 L525.0,967.0 L524.7,971.0 L524.4,975.0 L524.0,979.0 L523.6,983.0 L523.0,987.0 L522.4,991.0 L521.6,995.0 L520.8,999.0 L520.0,1003.0 L519.2,1007.0 L518.5,1010.9 L517.9,1014.9 L517.3,1018.8 L517.0,1022.8 L516.8,1026.7 L516.9,1030.6 L517.2,1034.5 L517.7,1038.3 L518.4,1042.2 L519.3,1046.0 L520.4,1049.9 L521.5,1053.7 L522.8,1057.6 L524.1,1061.4 L525.4,1065.3 L526.8,1069.2 L528.1,1073.1 L529.4,1077.0 L530.6,1080.9 L531.8,1084.9 L532.9,1088.8 L533.9,1092.8 L535.0,1096.7 L536.1,1100.6 L537.3,1104.5 L538.5,1108.3 L539.8,1112.1 L541.2,1115.8 L542.8,1119.4 L544.5,1123.0 L546.3,1126.4 L548.4,1129.7 L550.6,1133.0 L553.0,1136.1 L555.5,1139.2 L558.1,1142.3 L560.7,1145.3 L563.4,1148.4 L566.0,1151.5 L568.6,1154.6 L571.1,1157.7 L573.6,1160.9 L576.0,1164.1 L578.5,1167.3 L581.1,1170.4 L583.6,1173.5 L586.3,1176.5 L589.0,1179.5 L591.7,1182.5 L594.5,1185.4 L597.3,1188.3 L600.2,1191.1 L603.1,1193.8 L606.1,1196.5 L609.1,1199.2 L612.1,1201.8 L615.2,1204.4 L618.4,1206.9 L621.5,1209.3 L624.7,1211.7 L628.0,1214.1 L631.3,1216.4 L634.6,1218.6 L638.0,1220.8 L641.4,1222.9 L644.8,1225.0 L648.3,1227.0 L651.8,1228.9 L655.3,1230.8 L658.9,1232.7 L662.4,1234.5 L666.1,1236.2 L669.7,1237.9 L673.3,1239.6 L677.0,1241.2 L680.7,1242.8 L684.4,1244.4 L688.1,1246.1 L691.8,1247.7 L695.4,1249.3 L699.1,1250.9 L702.8,1252.6 L706.5,1254.3 L710.2,1256.0 L713.8,1257.8 L717.4,1259.6 L721.1,1261.5 L724.7,1263.3 L728.3,1265.1 L731.9,1266.9 L735.6,1268.6 L739.2,1270.3 L742.9,1271.9 L746.6,1273.5 L750.3,1274.9 L754.1,1276.2 L757.9,1277.3 L761.7,1278.4 L765.6,1279.2 L769.5,1279.9 L773.4,1280.5 L777.4,1280.9 L781.4,1281.3 L785.4,1281.7 L789.4,1282.0 L793.5,1282.4 L797.5,1282.8 L801.5,1283.3 L805.5,1283.9 L809.4,1284.5 L813.4,1285.2 L817.3,1286.0 L821.3,1286.8 L825.2,1287.6 L829.2,1288.3 L833.1,1289.1 L837.0,1289.8 L841.0,1290.5 L845.0,1291.1 L848.9,1291.6 L852.9,1292.0 L856.9,1292.3 L861.0,1292.5 L865.0,1292.7 L869.0,1292.7 L873.0,1292.7 L877.1,1292.7 L881.1,1292.5 L885.1,1292.3 L889.1,1292.0 L893.1,1291.7 L897.1,1291.3 L901.1,1290.8 L905.1,1290.3 L909.1,1289.8 L913.0,1289.2 L917.0,1288.5 L920.9,1287.8 L924.8,1287.1 L928.8,1286.3 L932.7,1285.5 L936.6,1284.6 L940.5,1283.8 L944.4,1282.8 L948.3,1281.8 L952.1,1280.8 L956.0,1279.8 L959.9,1278.7 L963.7,1277.6 L967.6,1276.5 L971.4,1275.4 L975.3,1274.2 L979.1,1273.0 L982.9,1271.8 L986.8,1270.6 L990.6,1269.3 L994.4,1268.0 L998.2,1266.8 L1002.1,1265.5 L1005.9,1264.2 L1009.7,1262.9 L1013.5,1261.5 L1017.3,1260.2 L1021.1,1258.9 L1024.9,1257.5 L1028.7,1256.2 L1032.5,1254.9 L1036.3,1253.5 L1040.1,1252.1 L1043.9,1250.7 L1047.6,1249.3 L1051.4,1247.9 L1055.2,1246.5 L1058.9,1245.0 L1062.6,1243.6 L1066.4,1242.0 L1070.1,1240.5 L1073.7,1238.9 L1077.4,1237.4 L1081.1,1235.7 L1084.7,1234.1 L1088.3,1232.3 L1091.9,1230.6 L1095.4,1228.8 L1099.0,1227.0 L1102.5,1225.1 L1106.0,1223.2 L1109.5,1221.2 L1112.9,1219.2 L1116.3,1217.1 L1119.7,1214.9 L1123.0,1212.7 L1126.3,1210.5 L1129.6,1208.2 L1132.9,1205.9 L1136.2,1203.5 L1139.4,1201.1 L1142.6,1198.7 L1145.8,1196.2 L1149.0,1193.7 L1152.2,1191.3 L1155.4,1188.7 L1158.5,1186.2 L1161.7,1183.7 L1164.9,1181.2 L1168.0,1178.6 L1171.2,1176.1 L1174.3,1173.6 L1177.4,1171.0 L1180.6,1168.5 L1183.7,1165.9 L1186.7,1163.3 L1189.8,1160.7 L1192.8,1158.0 L1195.8,1155.4 L1198.8,1152.7 L1201.7,1149.9 L1204.6,1147.2 L1207.4,1144.4 L1210.2,1141.5 L1213.0,1138.6 L1215.7,1135.7 L1218.3,1132.7 L1220.9,1129.6 L1223.4,1126.5 L1225.9,1123.4 L1228.4,1120.3 L1230.8,1117.1 L1233.2,1113.9 L1235.6,1110.7 L1237.9,1107.4 L1240.3,1104.1 L1242.6,1100.8 L1244.9,1097.6 L1247.2,1094.3 L1249.5,1090.9 L1251.8,1087.6 L1254.0,1084.3 L1256.3,1081.0 L1258.5,1077.6 L1260.7,1074.2 L1262.9,1070.9 L1265.1,1067.5 L1267.3,1064.1 L1269.5,1060.7 L1271.6,1057.3 L1273.7,1053.9 L1275.8,1050.4 L1277.8,1047.0 L1279.9,1043.5 L1281.9,1040.0 L1283.8,1036.5 L1285.8,1033.0 L1287.7,1029.5 L1289.6,1025.9 L1291.4,1022.4 L1293.3,1018.8 L1295.0,1015.2 L1296.8,1011.6 L1298.5,1008.0 L1300.2,1004.3 L1301.8,1000.7 L1303.4,997.0 L1305.0,993.3 L1306.5,989.6 L1308.0,985.9 L1309.4,982.1 L1310.8,978.4 L1312.2,974.6 L1313.5,970.8 L1314.9,967.0 L1316.1,963.2 L1317.4,959.4 L1318.6,955.6 L1319.7,951.8 L1320.8,947.9 L1321.9,944.0 L1323.0,940.2 L1324.0,936.3 L1325.0,932.4 L1325.9,928.5 L1326.8,924.6 L1327.7,920.7 L1328.5,916.7 L1329.3,912.8 L1330.0,908.9 L1330.8,904.9 L1331.5,900.9 L1332.1,897.0 L1332.7,893.0 L1333.3,889.0 L1333.8,885.1 L1334.3,881.1 L1334.8,877.1 L1335.2,873.1 L1335.6,869.1 L1336.0,865.1 L1336.3,861.1 L1336.6,857.1 L1336.8,853.1 L1337.1,849.1 L1337.2,845.0 L1337.4,841.0 L1337.5,837.0 L1337.6,833.0 L1337.6,829.0 L1337.6,825.0 L1337.5,821.0 L1337.5,816.9 L1337.4,812.9 L1337.2,808.9 L1337.0,804.9 L1336.8,800.9" fill="none" stroke="#3cd656" stroke-width="3" stroke-linejoin="miter"/>
<g>
<line x1="117" y1="245.5" x2="117" y2="1341.5" stroke="#111" stroke-width="4"/>
<line x1="98" y1="247.5" x2="119" y2="247.5" stroke="#111" stroke-width="4"/><line x1="98" y1="356.7" x2="119" y2="356.7" stroke="#111" stroke-width="4"/><line x1="98" y1="465.9" x2="119" y2="465.9" stroke="#111" stroke-width="4"/><line x1="98" y1="575.1" x2="119" y2="575.1" stroke="#111" stroke-width="4"/><line x1="98" y1="684.3" x2="119" y2="684.3" stroke="#111" stroke-width="4"/><line x1="98" y1="793.5" x2="119" y2="793.5" stroke="#111" stroke-width="4"/><line x1="98" y1="902.7" x2="119" y2="902.7" stroke="#111" stroke-width="4"/><line x1="98" y1="1011.9" x2="119" y2="1011.9" stroke="#111" stroke-width="4"/><line x1="98" y1="1121.1" x2="119" y2="1121.1" stroke="#111" stroke-width="4"/><line x1="98" y1="1230.3" x2="119" y2="1230.3" stroke="#111" stroke-width="4"/><line x1="98" y1="1339.5" x2="119" y2="1339.5" stroke="#111" stroke-width="4"/>
</g>
<g>
<text x="89.8" y="265.0" text-anchor="end" font-size="50.5" textLength="64.6" lengthAdjust="spacingAndGlyphs">1.0</text><text x="89.8" y="374.2" text-anchor="end" font-size="50.5" textLength="64.6" lengthAdjust="spacingAndGlyphs">0.8</text><text x="89.8" y="483.4" text-anchor="end" font-size="50.5" textLength="64.6" lengthAdjust="spacingAndGlyphs">0.6</text><text x="89.8" y="592.6" text-anchor="end" font-size="50.5" textLength="64.6" lengthAdjust="spacingAndGlyphs">0.4</text><text x="89.8" y="701.8" text-anchor="end" font-size="50.5" textLength="64.6" lengthAdjust="spacingAndGlyphs">0.2</text><text x="89.8" y="811.0" text-anchor="end" font-size="50.5" textLength="64.6" lengthAdjust="spacingAndGlyphs">0.0</text><text x="89.8" y="920.2" text-anchor="end" font-size="50.5" textLength="64.6" lengthAdjust="spacingAndGlyphs">0.2</text><text x="89.8" y="1029.4" text-anchor="end" font-size="50.5" textLength="64.6" lengthAdjust="spacingAndGlyphs">0.4</text><text x="89.8" y="1138.6" text-anchor="end" font-size="50.5" textLength="64.6" lengthAdjust="spacingAndGlyphs">0.6</text><text x="89.8" y="1247.8" text-anchor="end" font-size="50.5" textLength="64.6" lengthAdjust="spacingAndGlyphs">0.8</text><text x="89.8" y="1357.0" text-anchor="end" font-size="50.5" textLength="64.6" lengthAdjust="spacingAndGlyphs">1.0</text>
</g>
<text x="114.6" y="185" font-size="50.5" textLength="279.4" lengthAdjust="spacingAndGlyphs">S11_E5602A</text>
<line x1="117" y1="207" x2="243" y2="207" stroke="#111" stroke-width="4"/>
<text x="448.8" y="185" font-size="50.5" textLength="312.6" lengthAdjust="spacingAndGlyphs">S11_NanoVNA</text>
<line x1="450" y1="207" x2="576" y2="207" stroke="#46dc5e" stroke-width="4"/>
<text x="116.3" y="1410" font-size="47.5" textLength="416.5" lengthAdjust="spacingAndGlyphs">Start: 150.0000 MHz</text>
<text x="1159.6" y="1410" font-size="47.5" textLength="416.6" lengthAdjust="spacingAndGlyphs">Stop: 170.0000 MHz</text>
<rect x="28" y="260" width="9" height="6" fill="#fff"/><rect x="41" y="260" width="9" height="6" fill="#fff"/><rect x="28" y="1352" width="9" height="6" fill="#fff"/><rect x="41" y="1352" width="9" height="6" fill="#fff"/><rect x="149" y="180" width="10" height="6" fill="#fff"/><rect x="163" y="180" width="9" height="6" fill="#fff"/><rect x="172" y="180" width="10" height="6" fill="#fff"/><rect x="186" y="180" width="10" height="6" fill="#fff"/><rect x="482" y="180" width="10" height="6" fill="#fff"/><rect x="496" y="180" width="9" height="6" fill="#fff"/><rect x="504" y="180" width="10" height="6" fill="#fff"/><rect x="518" y="180" width="9" height="6" fill="#fff"/><rect x="239" y="1405" width="10" height="6" fill="#fff"/><rect x="253" y="1405" width="9" height="6" fill="#fff"/><rect x="1281" y="1405" width="10" height="6" fill="#fff"/><rect x="1295" y="1405" width="9" height="6" fill="#fff"/>
</svg>
</body></html>
